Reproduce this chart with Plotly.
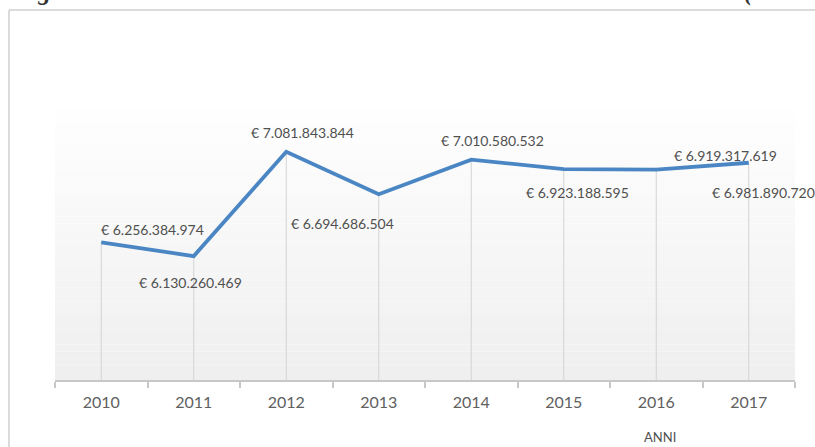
import plotly.graph_objects as go

years = ["2010", "2011", "2012", "2013", "2014", "2015", "2016", "2017"]
ffo = [6256384974, 6130260469, 7081843844, 6694686504, 7010580532,
       6923188595, 6919317619, 6981890720]
labels = ["€ 6.256.384.974", "€ 6.130.260.469", "€ 7.081.843.844", "€ 6.694.686.504",
          "€ 7.010.580.532", "€ 6.923.188.595", "€ 6.919.317.619", "€ 6.981.890.720"]
# label offsets (px) relative to each point
label_dx = [51, -3, 16, -36, 21, 14, 69, 15]
label_dy = [13, -26, 19, -29, 19, -23, 14, -30]

y_min, y_max = 5.0e9, 7.6e9
W, H = 815, 447
# plot area in page pixels
PL, PR, PT, PB = 55, 795, 95, 380
ML, MR, MT, MB = PL, W - PR, PT, H - PB
plot_w = W - ML - MR
plot_h = H - MT - MB


def px(x):
    return (x - ML) / plot_w


def py(y):
    return 1 - (y - MT) / plot_h


fig = go.Figure()

# drop lines from each point to the axis
dx, dy = [], []
for yr, v in zip(years, ffo):
    dx += [yr, yr, None]
    dy += [v, y_min, None]
fig.add_trace(go.Scatter(x=dx, y=dy, mode="lines",
                         line=dict(color="#d3d3d3", width=1),
                         hoverinfo="skip", showlegend=False))

fig.add_trace(go.Scatter(x=years, y=ffo, mode="lines",
                         line=dict(color="#4a86c4", width=3.8),
                         showlegend=False))

# gradient background of plot area
shapes = []
n = 40
for i in range(n):
    t = i / (n - 1)
    c = int(round(255 - t * 16))
    col = f"rgb({c},{c},{c})"
    shapes.append(dict(type="rect", xref="paper", yref="paper",
                       x0=0, x1=1, y0=1 - (i + 1) / n, y1=1 - i / n,
                       fillcolor=col, line=dict(width=0), layer="below"))
# outer frame (left and top borders)
shapes.append(dict(type="line", xref="paper", yref="paper",
                   x0=px(9), x1=px(9), y0=py(460), y1=py(10),
                   line=dict(color="#cfcfcf", width=1.5)))
shapes.append(dict(type="line", xref="paper", yref="paper",
                   x0=px(9), x1=px(830), y0=py(10), y1=py(10),
                   line=dict(color="#cfcfcf", width=1.5)))

annotations = []
for i, (v, lab, ddx, ddy) in enumerate(zip(ffo, labels, label_dx, label_dy)):
    annotations.append(dict(x=i, y=v, xref="x", yref="y", text=lab,
                            showarrow=False, xshift=ddx, yshift=ddy,
                            xanchor="center", yanchor="middle",
                            font=dict(family="Lato", size=14, color="#505050")))
annotations.append(dict(x=px(660), y=py(437), xref="paper", yref="paper",
                        xanchor="center", yanchor="middle",
                        text="ANNI", showarrow=False,
                        font=dict(family="Lato", size=13, color="#505050")))
annotations.append(dict(x=px(12), y=py(8), xref="paper", yref="paper",
                        xanchor="left", yanchor="bottom",
                        text="<b><i>Fig 1 - Andamento del FFO del sistema universitario dal 2010 al 2017 (in euro)</i></b>",
                        showarrow=False,
                        font=dict(family="Liberation Serif", size=25, color="#333333")))

fig.update_layout(
    width=W, height=H,
    margin=dict(l=ML, r=MR, t=MT, b=MB),
    paper_bgcolor="white", plot_bgcolor="rgba(0,0,0,0)",
    shapes=shapes, annotations=annotations,
    xaxis=dict(type="category", showgrid=False, showline=True,
               linecolor="#c8c8c8", linewidth=1.5,
               ticks="outside", tickson="boundaries", ticklen=6,
               tickcolor="#c8c8c8", tickwidth=1.5, ticklabelstandoff=7,
               tickfont=dict(family="Lato", size=16, color="#606060"),
               range=[-0.5, 7.5]),
    yaxis=dict(range=[y_min, y_max], visible=False, showgrid=False),
)

fig.write_html("out.html", config={"displayModeBar": False},
               post_script="document.body.style.margin='0px';document.body.style.overflow='hidden';")
